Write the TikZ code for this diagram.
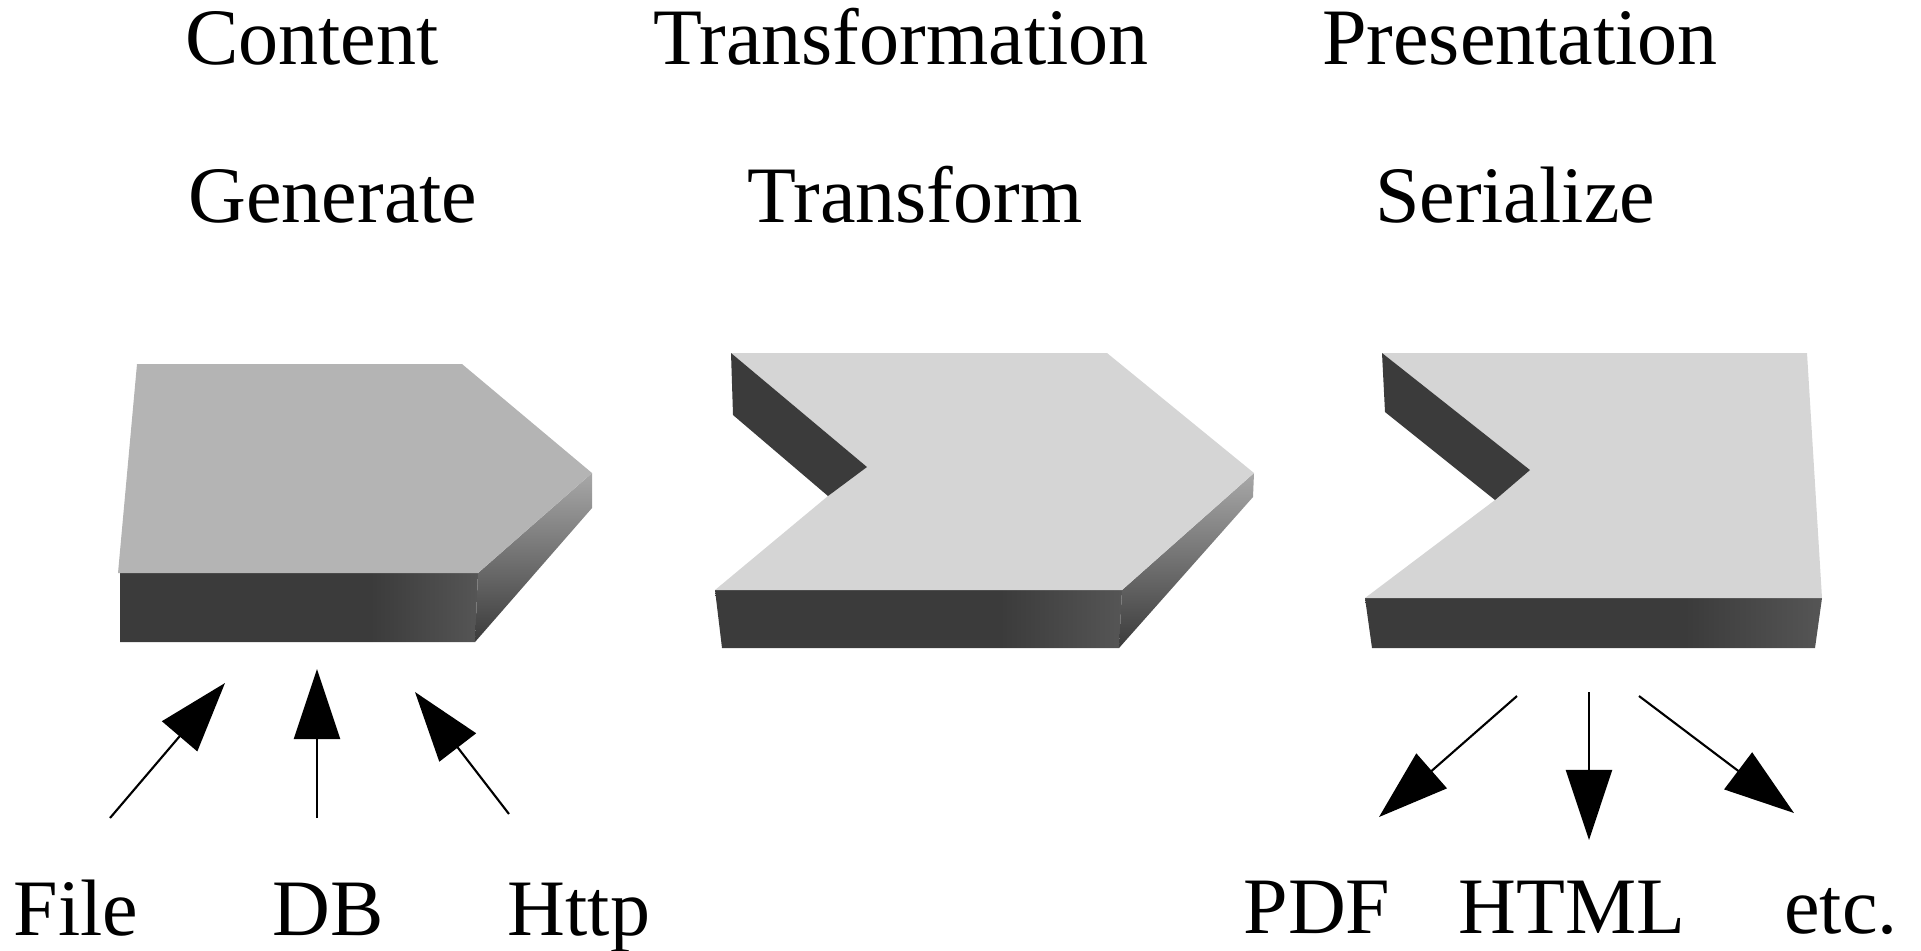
\documentclass[tikz,border=0pt]{standalone}
\usepackage{fontspec}
\setmainfont{Liberation Serif}
\usetikzlibrary{arrows.meta}
\definecolor{topA}{HTML}{B4B4B4}
\definecolor{topB}{HTML}{D5D5D5}
\definecolor{wall}{HTML}{3B3B3B}
\definecolor{sidetop}{HTML}{A8A8A8}
\definecolor{frontend}{HTML}{767676}
\pgfdeclarehorizontalshading{frontshade}{100bp}{color(0bp)=(wall); color(60bp)=(wall); color(88bp)=(wall!75!white); color(100bp)=(frontend)}
\tikzset{
  topface/.style={fill=#1, draw=none},
  frontface/.style={shading=frontshade, draw=none},
  sideface/.style={top color=sidetop, bottom color=wall, draw=none},
  wallface/.style={fill=wall, draw=none},
  lbl/.style={anchor=base, inner sep=0pt, font=\fontsize{22.76pt}{27pt}\selectfont},
  flow/.style={line width=0.6pt, -{Triangle[length=0.7cm,width=0.46cm]}},
}
\begin{document}
\begin{tikzpicture}[x=0.01cm, y=-0.01cm]
\useasboundingbox (0,0) rectangle (1921,950);
% titles
\node[lbl] (content) at (312,64) {Content};
\node[lbl] (transformation) at (901,64) {Transformation};
\node[lbl] (presentation) at (1520,64) {Presentation};
\node[lbl] (generate) at (333,222) {Generate};
\node[lbl] (transform) at (915,222) {Transform};
\node[lbl] (serialize) at (1515,222) {Serialize};
% shape 1 (generate)
\path[frontface] (120,573) -- (478,573) -- (475,642) -- (120,642) -- cycle;
\path[sideface] (478,573) -- (592,473) -- (592,508) -- (475,642) -- cycle;
\path[topface=topA] (137,364) -- (462,364) -- (592,473) -- (478,573) -- (118,573) -- cycle;
% shape 2 (transform)
\path[frontface] (715,590) -- (1122,590) -- (1119,648) -- (722,648) -- cycle;
\path[sideface] (1122,590) -- (1254,473) -- (1253,497) -- (1119,648) -- cycle;
\path[topface=topB] (731,353) -- (1107,353) -- (1254,473) -- (1122,590) -- (715,590) -- (828,496) -- (867,467) -- cycle;
\path[wallface] (731,353) -- (867,467) -- (828,496) -- (733,415) -- cycle;
% shape 3 (serialize)
\path[frontface] (1365,598) -- (1822,598) -- (1815,648) -- (1372,648) -- cycle;
\path[topface=topB] (1382,353) -- (1807,353) -- (1822,598) -- (1365,598) -- (1495,500) -- (1530,470) -- cycle;
\path[wallface] (1382,353) -- (1530,470) -- (1495,500) -- (1385,412) -- cycle;
% bottom labels
\node[lbl] (file) at (76,935) {File};
\node[lbl] (db) at (328,935) {DB};
\node[lbl] (http) at (579,935) {Http};
\node[lbl] (pdf) at (1317,933) {PDF};
\node[lbl] (html) at (1572,933) {HTML};
\node[lbl] (etc) at (1841,933) {etc.};
% arrow end points
\coordinate (fileS) at (110,818);
\coordinate (fileE) at (225,683);
\coordinate (dbS) at (317,818);
\coordinate (dbE) at (317,669);
\coordinate (httpS) at (509,814);
\coordinate (httpE) at (415,692);
\coordinate (pdfS) at (1517,696);
\coordinate (pdfE) at (1379,817);
\coordinate (htmlS) at (1589,692);
\coordinate (htmlE) at (1589,840);
\coordinate (etcS) at (1639,696);
\coordinate (etcE) at (1794,813);
\draw[flow] (fileS) -- (fileE);
\draw[flow] (dbS) -- (dbE);
\draw[flow] (httpS) -- (httpE);
\draw[flow] (pdfS) -- (pdfE);
\draw[flow] (htmlS) -- (htmlE);
\draw[flow] (etcS) -- (etcE);
\end{tikzpicture}
\end{document}
